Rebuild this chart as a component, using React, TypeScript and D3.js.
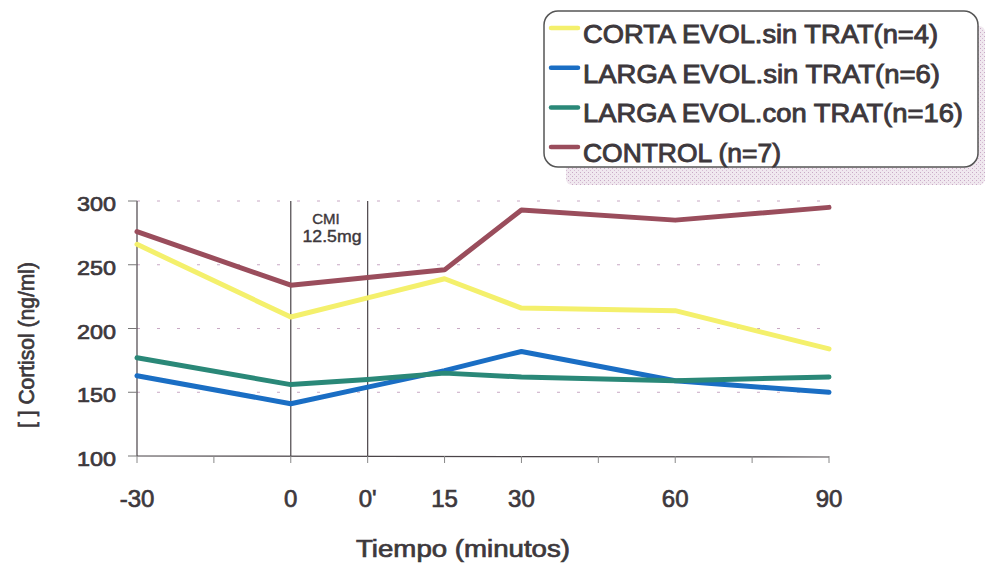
import React from "react";
import * as d3 from "d3";

const categories = ["-30", "0", "0'", "15", "30", "60", "90"];
const catPos = [0, 2, 3, 4, 5, 7, 9];
const yTicks = [100, 150, 200, 250, 300];

const seriesNames = [
  "CORTA EVOL.sin TRAT(n=4)",
  "LARGA EVOL.sin TRAT(n=6)",
  "LARGA EVOL.con TRAT(n=16)",
  "CONTROL (n=7)",
];
const cortaSin = [266, 209, 224, 239, 216, 214, 184];
const largaSin = [163, 141, 154, 167, 182, 159, 150];
const largaCon = [177, 156, 160, 165, 162, 159, 162];
const control = [276, 234, 240, 246, 293, 285, 295];
const seriesValues = [cortaSin, largaSin, largaCon, control];
const seriesColors = ["#f4f06c", "#1a6ec4", "#2a8878", "#9a4d5c"];

const legendWidths = [355, 357, 380, 198];

const FONT = "Liberation Sans, Arial, sans-serif";
const TEXT = "#3d383c";

export default function App() {
  const W = 985, H = 569;
  const x = d3.scaleLinear().domain([0, 9]).range([137, 829]);
  const y = d3.scaleLinear().domain([100, 300]).range([456, 201]);
  const line = d3
    .line<number>()
    .x((_, i) => x(catPos[i]))
    .y((d) => y(d));
  const minorTicks = d3.range(0, 10);
  const med = { fontFamily: FONT, fill: TEXT, stroke: TEXT, strokeWidth: 0.7 };

  return (
    <svg width={W} height={H} style={{ position: "absolute", left: 0, top: 0, background: "#fff" }}>
      <defs>
        <pattern id="stip" width="4" height="4" patternUnits="userSpaceOnUse">
          <rect width="4" height="4" fill="#f0e8ef" />
          <rect x="0" y="0" width="1" height="1" fill="#c9a9c6" />
          <rect x="2" y="2" width="1" height="1" fill="#d6bcd3" />
        </pattern>
      </defs>
      {/* legend shadow */}
      <rect x={566} y={26} width={419} height={159} rx={6} fill="url(#stip)" />
      {/* legend box */}
      <rect x={544} y={11} width={434} height={156} rx={14} fill="#fff" stroke="#555" strokeWidth={1.5} />
      {seriesNames.map((n, i) => (
        <g key={n}>
          <line x1={551} x2={578} y1={28 + i * 39.7} y2={28 + i * 39.7} stroke={seriesColors[i]} strokeWidth={4.5} strokeLinecap="round" />
          <text
            x={583}
            y={43 + i * 39.7}
            {...med}
            strokeWidth={0.9}
            fontSize={25}
            textLength={legendWidths[i]}
            lengthAdjust="spacingAndGlyphs"
          >
            {n}
          </text>
        </g>
      ))}

      {/* gridlines */}
      {yTicks.slice(1).map((t) => (
        <line key={t} x1={137} x2={829} y1={y(t)} y2={y(t)} stroke="#c8a8c4" strokeWidth={1} strokeDasharray="3,17" />
      ))}
      {/* y axis */}
      <line x1={137} x2={137} y1={201} y2={456} stroke="#4a4448" strokeWidth={1.2} />
      {yTicks.map((t) => (
        <g key={t}>
          <line x1={128} x2={137} y1={y(t)} y2={y(t)} stroke="#777" strokeWidth={1} />
          <text x={116} y={y(t) + 10} textAnchor="end" {...med} fontSize={21}
            textLength={39} lengthAdjust="spacingAndGlyphs">
            {t}
          </text>
        </g>
      ))}
      {/* x axis */}
      <line x1={137} x2={829} y1={456} y2={457} stroke="#4a4448" strokeWidth={1.2} />
      {minorTicks.map((t) => (
        <line key={t} x1={x(t)} x2={x(t)} y1={456} y2={463} stroke="#888" strokeWidth={1} />
      ))}
      {categories.map((c, i) => (
        <text key={c} x={x(catPos[i])} y={507} textAnchor="middle" {...med} fontSize={24}>
          {c}
        </text>
      ))}
      {/* CMI vertical lines */}
      <line x1={x(2)} x2={x(2)} y1={201} y2={456} stroke="#4a4448" strokeWidth={1.2} />
      <line x1={x(3)} x2={x(3)} y1={201} y2={456} stroke="#4a4448" strokeWidth={1.2} />
      <text x={326} y={224} textAnchor="middle" {...med} strokeWidth={0.4} fontSize={15}>CMI</text>
      <text x={332} y={242} textAnchor="middle" {...med} strokeWidth={0.4} fontSize={16}
        textLength={59} lengthAdjust="spacingAndGlyphs">12.5mg</text>

      {/* series */}
      {seriesValues.map((vals, i) => (
        <path key={i} d={line(vals) || ""} fill="none" stroke={seriesColors[i]} strokeWidth={5} strokeLinejoin="round" strokeLinecap="round" />
      ))}

      {/* axis titles */}
      <text x={463} y={557} textAnchor="middle" {...med} fontSize={23}
        textLength={214} lengthAdjust="spacingAndGlyphs">
        Tiempo (minutos)
      </text>
      <text transform="translate(34,345) rotate(-90)" textAnchor="middle" {...med} fontSize={22}
        textLength={166} lengthAdjust="spacingAndGlyphs">
        [ ] Cortisol (ng/ml)
      </text>
    </svg>
  );
}
